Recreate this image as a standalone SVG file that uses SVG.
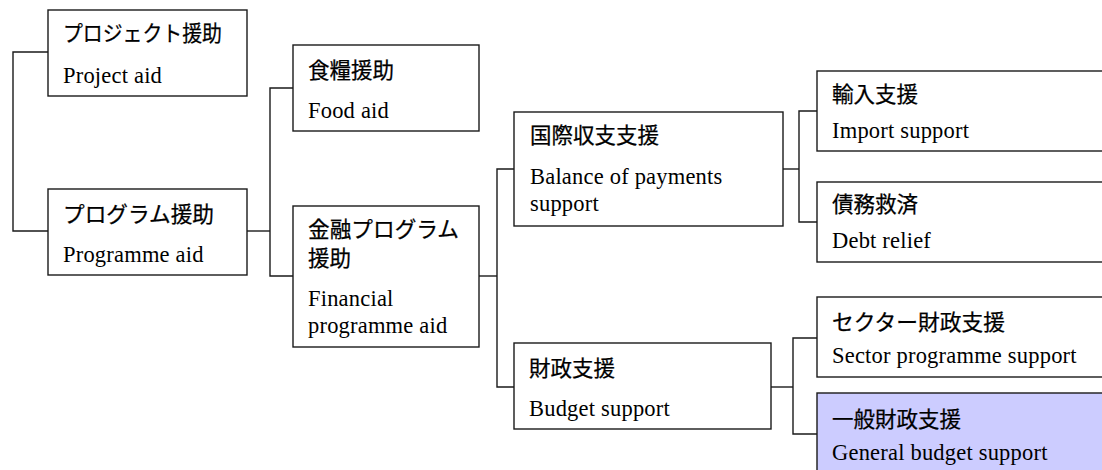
<svg xmlns="http://www.w3.org/2000/svg" width="1102" height="470" viewBox="0 0 1102 470">
<style>
.box{fill:#ffffff;stroke:#1a1a1a;stroke-width:1.4}
.hl{fill:#ccccff}
.jp{font-family:"Noto Sans CJK JP","Noto Sans CJK SC",sans-serif;font-size:21.5px;font-weight:400;fill:#000;stroke:#000;stroke-width:0.25}
.en{font-family:"Liberation Serif","Times New Roman",serif;font-size:22.5px;letter-spacing:0.2px;fill:#000}
.conn{fill:none;stroke:#1a1a1a;stroke-width:1.4}
</style>
<rect width="1102" height="470" fill="#ffffff"/>
<g id="connectors">
<path class="conn" d="M48,52 H13 V231 H48"/>
<path class="conn" d="M247,231 H270"/>
<path class="conn" d="M293,88 H270 V276 H293"/>
<path class="conn" d="M479,276 H497"/>
<path class="conn" d="M514,169 H497 V387 H514"/>
<path class="conn" d="M783,169 H799"/>
<path class="conn" d="M817,111 H799 V222 H817"/>
<path class="conn" d="M771,387 H793"/>
<path class="conn" d="M817,338 H793 V434 H817"/>
</g>
<g id="project-aid">
<rect class="box" x="48" y="10" width="199" height="86"/>
<text class="jp" x="63" y="41" textLength="159" lengthAdjust="spacingAndGlyphs">プロジェクト援助</text>
<text class="en" x="63" y="83">Project aid</text>
</g>
<g id="programme-aid">
<rect class="box" x="48" y="189" width="199" height="86"/>
<text class="jp" x="63" y="221.5" textLength="151" lengthAdjust="spacingAndGlyphs">プログラム援助</text>
<text class="en" x="63" y="261.5">Programme aid</text>
</g>
<g id="food-aid">
<rect class="box" x="293" y="45" width="186" height="86"/>
<text class="jp" x="308" y="78">食糧援助</text>
<text class="en" x="308" y="117.5">Food aid</text>
</g>
<g id="financial-programme-aid">
<rect class="box" x="293" y="206" width="186" height="141"/>
<text class="jp" x="308" y="236.5" textLength="151" lengthAdjust="spacingAndGlyphs">金融プログラム</text>
<text class="jp" x="308" y="265.5">援助</text>
<text class="en" x="308" y="306">Financial</text>
<text class="en" x="308" y="333">programme aid</text>
</g>
<g id="balance-of-payments-support">
<rect class="box" x="514" y="112" width="269" height="114"/>
<text class="jp" x="530" y="143">国際収支支援</text>
<text class="en" x="530" y="183.5">Balance of payments</text>
<text class="en" x="530" y="210.5">support</text>
</g>
<g id="budget-support">
<rect class="box" x="514" y="343" width="257" height="86"/>
<text class="jp" x="529" y="376">財政支援</text>
<text class="en" x="529" y="416">Budget support</text>
</g>
<g id="import-support">
<rect class="box" x="817" y="71" width="300" height="80"/>
<text class="jp" x="832" y="102">輸入支援</text>
<text class="en" x="832" y="137.5">Import support</text>
</g>
<g id="debt-relief">
<rect class="box" x="817" y="182" width="300" height="80"/>
<text class="jp" x="832" y="212">債務救済</text>
<text class="en" x="832" y="247.5">Debt relief</text>
</g>
<g id="sector-programme-support">
<rect class="box" x="817" y="297" width="300" height="80"/>
<text class="jp" x="832" y="330" textLength="173" lengthAdjust="spacingAndGlyphs">セクター財政支援</text>
<text class="en" x="832" y="362.5">Sector programme support</text>
</g>
<g id="general-budget-support">
<rect class="box hl" x="817" y="393" width="300" height="90"/>
<text class="jp" x="832" y="427">一般財政支援</text>
<text class="en" x="832" y="460">General budget support</text>
</g>
</svg>
